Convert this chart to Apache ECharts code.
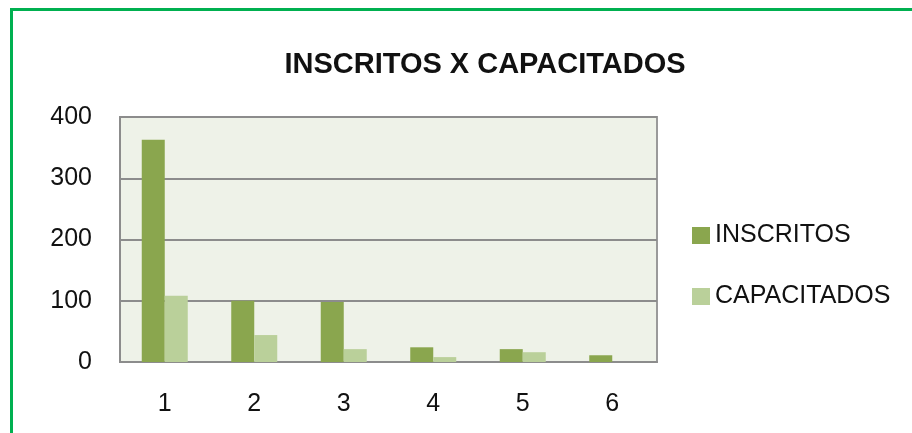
<!DOCTYPE html>
<html>
<head>
<meta charset="utf-8">
<script src="https://cdn.jsdelivr.net/npm/echarts@6/dist/echarts.min.js"></script>
<style>
  html, body { margin: 0; padding: 0; background: #fff; }
  #frame {
    position: absolute; left: 10px; top: 8px;
    width: 1000px; height: 500px;
    border: 3px solid #00b050;
    box-sizing: border-box;
  }
  #main { position: absolute; left: 0; top: 0; width: 912px; height: 433px; }
</style>
</head>
<body>
<div id="frame"></div>
<div id="main"></div>
<script>
  // dados
  var categorias = ['1', '2', '3', '4', '5', '6'];
  var inscritos = [363, 100, 98, 24, 21, 11];
  var capacitados = [108, 44, 21, 8, 16, 0];
  var yTicks = [0, 100, 200, 300, 400];

  var fonte = '"Liberation Sans", "DejaVu Sans", sans-serif';
  var chart = echarts.init(document.getElementById('main'));
  chart.setOption({
    animation: false,
    title: {
      text: 'INSCRITOS X CAPACITADOS',
      left: 480, top: 45, textAlign: 'center',
      textStyle: { fontFamily: fonte, fontSize: 29, fontWeight: 'bold', color: '#111' }
    },
    legend: {
      orient: 'vertical',
      left: 687, top: 218,
      itemWidth: 18, itemHeight: 17, itemGap: 36,
      icon: 'rect',
      textStyle: { fontFamily: fonte, fontSize: 25, color: '#111' },
      data: ['INSCRITOS', 'CAPACITADOS']
    },
    grid: {
      left: 120, top: 117, width: 537, height: 245,
      show: true,
      backgroundColor: '#eef2e8',
      borderColor: '#9a9a9a',
      borderWidth: 2
    },
    xAxis: {
      type: 'category',
      data: categorias,
      axisTick: { show: false },
      axisLine: { lineStyle: { color: '#8c8c8c', width: 2 } },
      axisLabel: { fontFamily: fonte, fontSize: 25, color: '#111', margin: 30 }
    },
    yAxis: {
      type: 'value',
      min: yTicks[0], max: yTicks[yTicks.length - 1], interval: 100,
      axisLine: { show: true, lineStyle: { color: '#8c8c8c', width: 2 } },
      axisTick: { show: false },
      splitLine: { lineStyle: { color: '#8c8c8c', width: 2 } },
      axisLabel: { fontFamily: fonte, fontSize: 25, color: '#111', margin: 28 }
    },
    series: [
      {
        name: 'INSCRITOS', type: 'bar',
        data: inscritos,
        barWidth: 23, barGap: '0%',
        itemStyle: { color: '#8aa64e' }
      },
      {
        name: 'CAPACITADOS', type: 'bar',
        data: capacitados,
        barWidth: 23, barGap: '0%',
        itemStyle: { color: '#bad09a' }
      }
    ]
  });
</script>
</body>
</html>
